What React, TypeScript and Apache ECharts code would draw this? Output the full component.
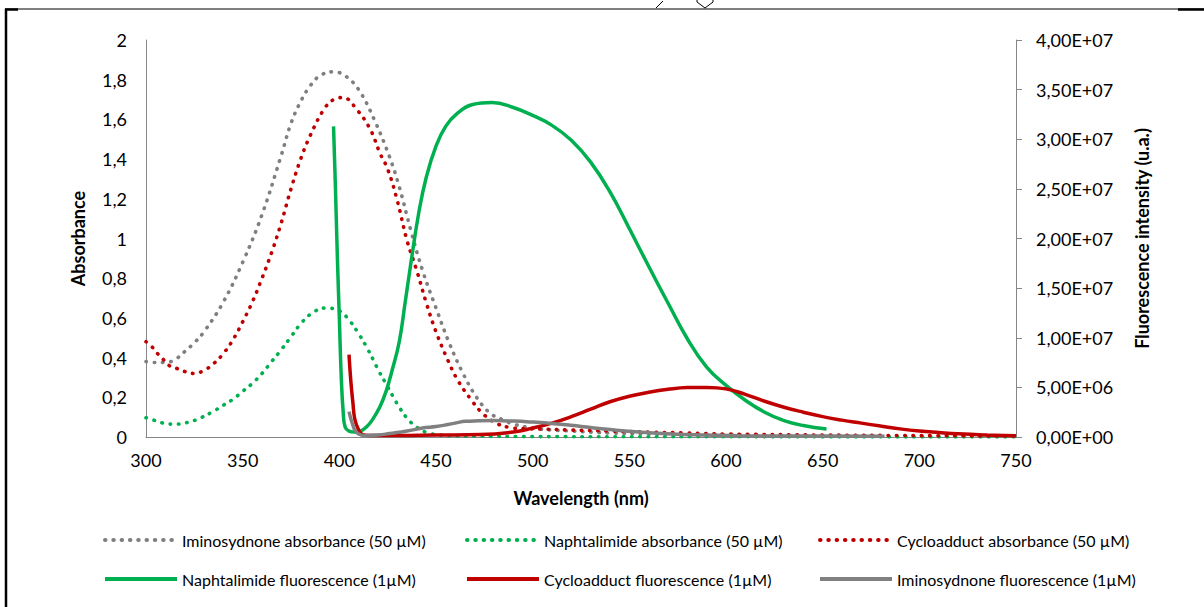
import React, { useEffect, useRef } from "react";
import * as echarts from "echarts";

// ---------- data ----------
const xTicks = [300, 350, 400, 450, 500, 550, 600, 650, 700, 750];

const imAbsX = [300, 305, 310, 315, 320, 325, 330, 340, 350, 360, 370, 375, 380, 385, 390, 397, 403, 410, 418, 426, 431, 437, 443, 450, 457, 464, 471, 478, 485, 490, 500, 510, 520, 540, 560, 580, 600, 640, 680];
const imAbsY = [0.38, 0.375, 0.375, 0.39, 0.43, 0.475, 0.53, 0.68, 0.88, 1.12, 1.42, 1.58, 1.69, 1.77, 1.82, 1.84, 1.82, 1.75, 1.6, 1.41, 1.26, 1.04, 0.84, 0.65, 0.47, 0.32, 0.2, 0.12, 0.085, 0.065, 0.045, 0.035, 0.03, 0.02, 0.015, 0.012, 0.01, 0.006, 0.004];

const naAbsX = [300, 304, 308, 312, 316, 320, 324, 328, 335, 340, 345, 350, 355, 360, 365, 370, 375, 380, 386, 393, 400, 405, 410, 414, 418, 420, 424, 428, 431, 435, 440, 446, 455, 470, 500, 600, 750];
const naAbsY = [0.097, 0.085, 0.072, 0.065, 0.065, 0.07, 0.08, 0.095, 0.13, 0.16, 0.19, 0.23, 0.27, 0.32, 0.38, 0.44, 0.505, 0.57, 0.625, 0.65, 0.635, 0.59, 0.52, 0.455, 0.38, 0.34, 0.27, 0.2, 0.15, 0.095, 0.05, 0.02, 0.008, 0.004, 0.002, 0.001, 0];

const cyAbsX = [300, 303, 306, 309, 312, 316, 320, 325, 330, 335, 340, 345, 350, 355, 360, 365, 370, 375, 380, 385, 392, 397, 402, 409, 416, 421, 425, 430, 435, 440, 445, 450, 456, 461, 468, 474, 481, 488, 495, 505, 520, 540, 560, 580, 600, 650, 700, 750];
const cyAbsY = [0.48, 0.455, 0.42, 0.39, 0.36, 0.345, 0.33, 0.32, 0.335, 0.37, 0.42, 0.49, 0.58, 0.68, 0.8, 0.93, 1.08, 1.25, 1.4, 1.52, 1.65, 1.7, 1.71, 1.65, 1.55, 1.43, 1.35, 1.19, 0.99, 0.84, 0.675, 0.53, 0.39, 0.29, 0.19, 0.12, 0.07, 0.048, 0.042, 0.04, 0.035, 0.03, 0.025, 0.02, 0.015, 0.01, 0.007, 0.005];

const naFlX = [397, 398, 399, 400, 401, 402, 403, 405, 408, 411, 414, 417, 421, 424, 427, 431, 434, 437, 441, 445, 450, 455, 461, 469, 479, 490, 500, 510, 520, 530, 540, 550, 560, 570, 580, 590, 600, 610, 620, 630, 640, 652];
const naFlY = [3.13e7, 2.5e7, 1.8e7, 1.2e7, 6.0e6, 2.5e6, 1.0e6, 6e5, 5e5, 6e5, 1.0e6, 1.7e6, 3.05e6, 4.5e6, 6.5e6, 9.6e6, 1.35e7, 1.75e7, 2.25e7, 2.62e7, 2.93e7, 3.13e7, 3.26e7, 3.35e7, 3.37e7, 3.32e7, 3.24e7, 3.14e7, 2.99e7, 2.77e7, 2.47e7, 2.1e7, 1.72e7, 1.35e7, 9.9e6, 7.05e6, 5.2e6, 3.7e6, 2.5e6, 1.65e6, 1.15e6, 8e5];

const cyFlX = [405, 406, 407, 408, 410, 412, 415, 430, 450, 473, 490, 500, 510, 520, 530, 540, 550, 560, 570, 580, 590, 600, 610, 620, 630, 640, 650, 660, 670, 680, 690, 700, 710, 720, 735, 750];
const cyFlY = [8.3e6, 5.5e6, 3.5e6, 1.8e6, 7e5, 2.5e5, 1.5e5, 1.5e5, 2e5, 2.5e5, 5e5, 9e5, 1.4e6, 2.05e6, 2.8e6, 3.55e6, 4.1e6, 4.5e6, 4.8e6, 4.98e6, 5.0e6, 4.85e6, 4.3e6, 3.6e6, 3.0e6, 2.5e6, 2.05e6, 1.7e6, 1.4e6, 1.1e6, 8.2e5, 6e5, 4.5e5, 3.2e5, 2e5, 1.2e5];

const imFlX = [405, 406, 407, 408, 410, 413, 420, 426, 435, 443, 450, 456, 461, 465, 472, 480, 490, 500, 510, 520, 530, 540, 555, 572, 590, 607, 640, 682];
const imFlY = [2.55e6, 1.8e6, 1.2e6, 7e5, 3e5, 1.5e5, 2e5, 3.5e5, 6e5, 9e5, 1.05e6, 1.25e6, 1.45e6, 1.58e6, 1.63e6, 1.65e6, 1.6e6, 1.5e6, 1.37e6, 1.18e6, 9.5e5, 7.5e5, 5e5, 3e5, 2e5, 1.2e5, 1e5, 8e4];

const names = [
  "Iminosydnone absorbance (50 µM)",
  "Naphtalimide absorbance (50 µM)",
  "Cycloadduct absorbance (50 µM)",
  "Naphtalimide fluorescence (1µM)",
  "Cycloadduct fluorescence (1µM)",
  "Iminosydnone fluorescence (1µM)",
];

const GREEN = "#00B050";
const RED = "#C00000";
const GRAY = "#808080";
const FONT = "Lato";

const pairs = (xs: number[], ys: number[]) => xs.map((x, i) => [x, ys[i]]);

const fmtLeft = (v: number) => String(Math.round(v * 10) / 10).replace(".", ",");
const fmtRight = (v: number) => {
  const [m, e] = v.toExponential(2).split("e");
  const sign = e[0] === "-" ? "-" : "+";
  const digits = e.replace(/[+-]/, "").padStart(2, "0");
  return m.replace(".", ",") + "E" + sign + digits;
};

export default function App() {
  const ref = useRef<HTMLDivElement>(null);
  useEffect(() => {
    if (!ref.current) return;
    const chart = echarts.init(ref.current, null, { renderer: "svg" });
    const dotted = (color: string) => ({ color, width: 3.6, type: [0.5, 7.8], cap: "round" as const });
    const solid = (color: string) => ({ color, width: 3.5, type: "solid" as const });
    const mk = (name: string, xs: number[], ys: number[], yIdx: number, ls: any, sm: number) => ({
      name,
      type: "line",
      yAxisIndex: yIdx,
      data: pairs(xs, ys),
      smooth: sm,
      symbol: "none",
      showSymbol: false,
      lineStyle: ls,
      itemStyle: { color: ls.color },
      z: 2,
    });
    const legendPos = [
      [98, 527],
      [460, 527],
      [813, 527],
      [98, 566],
      [460, 566],
      [813, 566],
    ];
    chart.setOption({
      animation: false,
      textStyle: { fontFamily: FONT },
      grid: { left: 146, right: 188, top: 40, bottom: 170, containLabel: false },
      legend: names.map((n, i) => ({
        data: [n],
        left: legendPos[i][0],
        top: legendPos[i][1],
        itemWidth: 72,
        itemHeight: 14,
        itemGap: 6,
        itemStyle: { opacity: 0 },
        lineStyle: { width: 4 },
        textStyle: { fontFamily: FONT, fontSize: 16, color: "#000" },
        selectedMode: false,
      })),
      xAxis: {
        type: "value",
        min: 300,
        max: 750,
        interval: 50,
        name: "Wavelength (nm)",
        nameLocation: "middle",
        nameGap: 52,
        nameTextStyle: { fontFamily: FONT, fontWeight: "bold", fontSize: 18, color: "#000" },
        axisLine: { lineStyle: { color: "#868686", width: 1 } },
        axisTick: { show: false },
        splitLine: { show: false },
        axisLabel: { fontFamily: FONT, fontSize: 18, color: "#000", margin: 14 },
      },
      yAxis: [
        {
          type: "value",
          min: 0,
          max: 2,
          interval: 0.2,
          name: "Absorbance",
          nameLocation: "middle",
          nameRotate: 90,
          nameGap: 59,
          nameTextStyle: { fontFamily: FONT, fontWeight: "bold", fontSize: 18, color: "#000" },
          axisLine: { show: true, lineStyle: { color: "#868686", width: 1 } },
          axisTick: { show: false },
          splitLine: { show: false },
          axisLabel: { fontFamily: FONT, fontSize: 18, color: "#000", margin: 19, formatter: fmtLeft },
        },
        {
          type: "value",
          min: 0,
          max: 4e7,
          interval: 5e6,
          position: "right",
          name: "Fluorescence intensity (u.a.)",
          nameLocation: "middle",
          nameRotate: 90,
          nameGap: 117,
          nameTextStyle: { fontFamily: FONT, fontWeight: "bold", fontSize: 18, color: "#000" },
          axisLine: { show: true, lineStyle: { color: "#868686", width: 1 } },
          axisTick: { show: true, inside: false, length: 6, lineStyle: { color: "#868686" } },
          splitLine: { show: false },
          axisLabel: { fontFamily: FONT, fontSize: 18, color: "#000", margin: 20, formatter: fmtRight },
        },
      ],
      series: [
        mk(names[0], imAbsX, imAbsY, 0, dotted("#7F7F7F"), 0.4),
        mk(names[1], naAbsX, naAbsY, 0, dotted(GREEN), 0.4),
        mk(names[2], cyAbsX, cyAbsY, 0, dotted(RED), 0.4),
        mk(names[3], naFlX, naFlY, 1, solid(GREEN), 0.45),
        mk(names[4], cyFlX, cyFlY, 1, solid(RED), 0.45),
        mk(names[5], imFlX, imFlY, 1, solid(GRAY), 0.45),
      ],
      graphic: [
        { type: "line", shape: { x1: 6, y1: 9, x2: 6, y2: 607 }, style: { stroke: "#000", lineWidth: 2.5 } },
        { type: "line", shape: { x1: 5, y1: 9, x2: 1204, y2: 9 }, style: { stroke: "#000", lineWidth: 1.2 } },
        { type: "line", shape: { x1: 5, y1: 9.5, x2: 18, y2: 9.5 }, style: { stroke: "#000", lineWidth: 2.5 } },
        { type: "line", shape: { x1: 1178, y1: 9.5, x2: 1204, y2: 9.5 }, style: { stroke: "#000", lineWidth: 2.5 } },
        { type: "line", shape: { x1: 656, y1: 8, x2: 663, y2: 1 }, style: { stroke: "#000", lineWidth: 1 } },
        { type: "polyline", shape: { points: [[697, 0], [697, 2], [705, 8], [713, 2], [713, 0]] }, style: { stroke: "#000", lineWidth: 1, fill: "none" } },
      ],
    });
    return () => chart.dispose();
  }, []);
  return <div ref={ref} style={{ position: "fixed", left: 0, top: 0, width: 1204, height: 607, background: "#fff" }} />;
}
